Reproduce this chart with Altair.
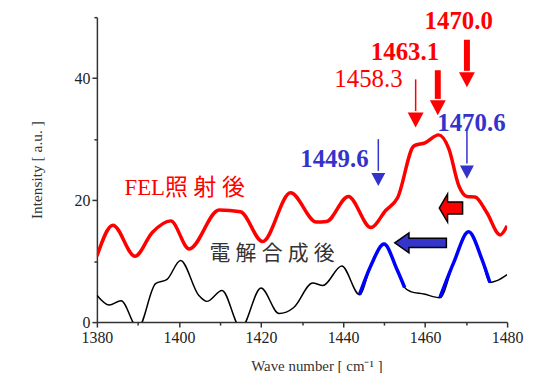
import altair as alt
import pandas as pd

# ---- spectra ----
WAVE_BLACK = [1380, 1383.0, 1385.9, 1390.0, 1394.3, 1397.1, 1400.4, 1404.8, 1406.8, 1410.5,
              1415.1, 1420.0, 1424.4, 1428.0, 1432.6, 1435.1, 1439.7, 1444.0, 1446.8, 1450.0,
              1453.1, 1455.0, 1456.5, 1459.7, 1463.6, 1467.0, 1470.6, 1473.8, 1475.8, 1477.5, 1480]
INT_BLACK = [4.4, 2.8, 3.5, -1.0, 6.3, 7.0, 10.1, 4.4, 3.4, 5.2,
             -1.0, 5.6, 1.4, 2.4, 6.4, 6.0, 9.2, 4.5, 9.3, 12.8,
             8.7, 5.7, 5.0, 4.6, 4.0, 9.8, 14.8, 10.4, 6.5, 6.8, 7.8]

WAVE_RED = [1380, 1383.9, 1389.3, 1393.5, 1398.0, 1402.5, 1409.8, 1415.0, 1420.4, 1427.2,
            1433.5, 1436.0, 1441.3, 1446.8, 1450.4, 1453.3, 1457.3, 1460.0, 1463.3, 1465.8,
            1468.2, 1470.2, 1472.2, 1475.0, 1478.3, 1480]
INT_RED = [10.8, 15.9, 10.8, 14.7, 16.6, 12.0, 18.4, 18.1, 13.2, 21.2,
           16.4, 16.5, 20.6, 15.5, 18.3, 20.4, 28.9, 29.4, 30.7, 28.4,
           22.4, 20.6, 20.5, 18.0, 14.3, 15.8]

BLUE_SEGMENTS = [[1444.0, 1455.0], [1463.6, 1475.8]]

X_MAJOR = [1380, 1400, 1420, 1440, 1460, 1480]
X_MINOR = [1390, 1410, 1430, 1450, 1470]
Y_MAJOR = [0, 20, 40]
Y_MINOR = [10, 30, 50]

# ---- annotations ----
LABEL_TEXT = ["1458.3", "1463.1", "1470.0", "1470.6", "1449.6"]
LABEL_X = [1446.2, 1455.1, 1468.2, 1471.3, 1437.9]
LABEL_Y = [39.8, 44.2, 49.4, 32.7, 26.7]
LABEL_COLOR = ["#ff0000", "#ff0000", "#ff0000", "#3333cc", "#3333cc"]
LABEL_BOLD = [False, True, True, True, True]

ARROW_X = [1457.7, 1463.1, 1470.2, 1448.6, 1470.2]
ARROW_TOP = [39.8, 41.3, 46.3, 30.0, 31.4]
ARROW_BASE = [34.6, 36.6, 41.2, 24.8, 26.0]
ARROW_TIP = [31.9, 33.9, 38.5, 22.3, 23.5]
ARROW_COLOR = ["#ff0000", "#ff0000", "#ff0000", "#3333cc", "#3333cc"]
ARROW_WIDTH = [1.5, 6, 6, 1.5, 1.5]
ARROW_HEAD = [256, 256, 256, 196, 196]

SERIES_TEXT = ["FEL照 射 後", "電 解 合 成 後"]
SERIES_X = [1401.4, 1422.7]
SERIES_Y = [22.0, 11.2]
SERIES_COLOR = ["#ff0000", "#333333"]
SERIES_SIZE = [23, 21]

BLOCK_X = [1466.3, 1458.9]
BLOCK_Y = [18.7, 13.0]

# ---- tables ----
black_df = pd.DataFrame({"x": WAVE_BLACK, "y": INT_BLACK})
red_df = pd.DataFrame({"x": WAVE_RED, "y": INT_RED})
blue_parts = []
for i, (a, b) in enumerate(BLUE_SEGMENTS):
    part = black_df[(black_df.x >= a) & (black_df.x <= b)].copy()
    part["seg"] = i
    blue_parts.append(part)
blue_df = pd.concat(blue_parts)

label_df = pd.DataFrame({"t": LABEL_TEXT, "x": LABEL_X, "y": LABEL_Y,
                         "c": LABEL_COLOR, "bold": LABEL_BOLD})
arrow_df = pd.DataFrame({"x": ARROW_X, "top": ARROW_TOP, "base": ARROW_BASE,
                         "tip": ARROW_TIP, "c": ARROW_COLOR, "w": ARROW_WIDTH,
                         "s": ARROW_HEAD})
series_df = pd.DataFrame({"t": SERIES_TEXT, "x": SERIES_X, "y": SERIES_Y,
                          "c": SERIES_COLOR, "fs": SERIES_SIZE})
block_df = pd.DataFrame({"x": BLOCK_X, "y": BLOCK_Y, "k": ["red", "blue"]})

xs = alt.Scale(domain=[1380, 1480], nice=False, zero=False)
ys = alt.Scale(domain=[0, 50], nice=False, zero=False)

SERIF = "Liberation Serif, Times New Roman, serif"
AXC = "#333333"

common = dict(domainColor=AXC, tickColor=AXC, domainWidth=1.5, tickWidth=1.5,
              grid=False, labelFlush=False, labelOverlap=False)

x_major = alt.Axis(
    values=X_MAJOR, format="d", tickSize=5, orient="bottom",
    labelFont=SERIF, labelFontSize=16, labelColor="#222222", labelPadding=3,
    title="Wave number [ cm⁻¹ ]", titleFont=SERIF, titleFontSize=15,
    titleFontWeight="normal", titleColor=AXC, titlePadding=13, titleX=221,
    **common,
)
x_minor = alt.Axis(values=X_MINOR, tickSize=3, labels=False, domain=False,
                   title=None, orient="bottom", tickColor=AXC, tickWidth=1.5, grid=False)
y_major = alt.Axis(
    values=Y_MAJOR, tickSize=5, orient="left",
    labelFont=SERIF, labelFontSize=16, labelColor="#222222", labelPadding=2,
    title="Intensity [ a.u. ]", titleFont=SERIF, titleFontSize=15.5,
    titleFontWeight="normal", titleColor=AXC, titlePadding=30, **common,
)
y_minor = alt.Axis(values=Y_MINOR, tickSize=3, labels=False, domain=False,
                   title=None, orient="left", tickColor=AXC, tickWidth=1.5, grid=False)

black = alt.Chart(black_df).mark_line(
    color="#000000", strokeWidth=1.5, interpolate="monotone", clip=True
).encode(x=alt.X("x:Q", scale=xs, axis=x_major), y=alt.Y("y:Q", scale=ys, axis=y_major))

blue = alt.Chart(blue_df).mark_line(
    color="#0000ff", strokeWidth=3.5, interpolate="monotone", clip=True
).encode(x=alt.X("x:Q", scale=xs, axis=None), y=alt.Y("y:Q", scale=ys, axis=None),
         detail="seg:N")

red = alt.Chart(red_df).mark_line(
    color="#ff0000", strokeWidth=3.5, interpolate="monotone", clip=True
).encode(x=alt.X("x:Q", scale=xs, axis=x_minor), y=alt.Y("y:Q", scale=ys, axis=y_minor))

shafts = alt.Chart(arrow_df).mark_rule(strokeCap="butt").encode(
    x=alt.X("x:Q", scale=xs, axis=None),
    y=alt.Y("top:Q", scale=ys, axis=None),
    y2="base:Q",
    color=alt.Color("c:N", scale=None),
    strokeWidth=alt.StrokeWidth("w:Q", scale=None),
)
heads = alt.Chart(arrow_df).mark_point(
    shape="M-1,-1.9 L1,-1.9 L0,0 Z", filled=True, opacity=1, strokeWidth=0
).encode(
    x=alt.X("x:Q", scale=xs, axis=None),
    y=alt.Y("tip:Q", scale=ys, axis=None),
    color=alt.Color("c:N", scale=None),
    size=alt.Size("s:Q", scale=None),
)

def label_layer(bold):
    return alt.Chart(label_df).transform_filter(
        f"datum.bold == {'true' if bold else 'false'}"
    ).mark_text(
        font=SERIF, fontSize=25, fontWeight="bold" if bold else "normal",
        align="center", baseline="middle"
    ).encode(
        x=alt.X("x:Q", scale=xs, axis=None),
        y=alt.Y("y:Q", scale=ys, axis=None),
        text="t:N",
        color=alt.Color("c:N", scale=None),
    )

series_text = alt.Chart(series_df).mark_text(
    font="Liberation Serif, Times New Roman, Noto Sans CJK JP, serif",
    align="center", baseline="middle"
).encode(
    x=alt.X("x:Q", scale=xs, axis=None),
    y=alt.Y("y:Q", scale=ys, axis=None),
    text="t:N",
    color=alt.Color("c:N", scale=None),
    size=alt.Size("fs:Q", scale=None),
)

red_block = alt.Chart(block_df).transform_filter("datum.k == 'red'").mark_point(
    shape="M-0.83,0 L-0.24,-1 L-0.24,-0.43 L0.83,-0.43 L0.83,0.43 L-0.24,0.43 L-0.24,1 Z",
    filled=True, color="#ff0000", stroke="#000000", strokeWidth=1.5, opacity=1, size=800,
).encode(x=alt.X("x:Q", scale=xs, axis=None), y=alt.Y("y:Q", scale=ys, axis=None))

blue_block = alt.Chart(block_df).transform_filter("datum.k == 'blue'").mark_point(
    shape="M-1,0 L-0.45,-0.385 L-0.45,-0.18 L1,-0.18 L1,0.18 L-0.45,0.18 L-0.45,0.385 Z",
    filled=True, color="#3535cc", stroke="#000000", strokeWidth=1.5, opacity=1, size=2704,
).encode(x=alt.X("x:Q", scale=xs, axis=None), y=alt.Y("y:Q", scale=ys, axis=None))

chart = alt.layer(
    black, blue, red, shafts, heads, label_layer(False), label_layer(True),
    series_text, red_block, blue_block
).resolve_axis(x="independent", y="independent").properties(
    width=413, height=307,
    autosize=alt.AutoSizeParams(type="none"),
    padding={"left": 89.5, "top": 8, "right": 18, "bottom": 50},
    background="white",
).configure_view(stroke=None)

chart.save("out.html", embed_options={"renderer": "svg", "actions": False})
